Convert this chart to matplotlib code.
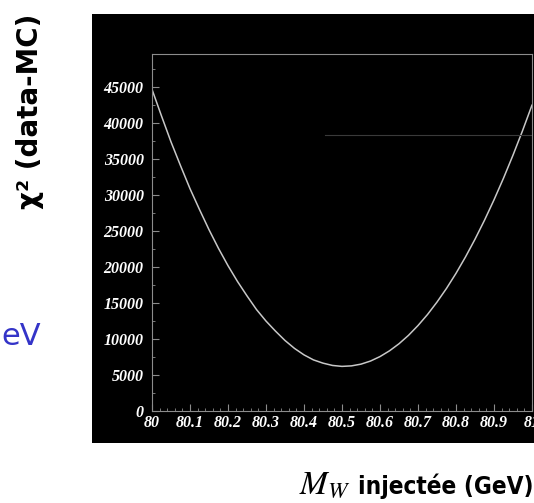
import matplotlib.pyplot as plt
from matplotlib.ticker import MultipleLocator

# chi2 scan versus injected W mass
mw_injected = [80.000, 80.025, 80.050, 80.075, 80.100, 80.125, 80.150, 80.175,
               80.200, 80.225, 80.250, 80.275, 80.300, 80.325, 80.350, 80.375,
               80.400, 80.425, 80.450, 80.475, 80.500, 80.525, 80.550, 80.575,
               80.600, 80.625, 80.650, 80.675, 80.700, 80.725, 80.750, 80.775,
               80.800, 80.825, 80.850, 80.875, 80.900, 80.925, 80.950, 80.975,
               81.000]
chi2 = [44700, 41000, 37400, 34100, 30900, 28000, 25200, 22600,
        20200, 18000, 16000, 14100, 12500, 11100, 9800, 8700,
        7800, 7100, 6650, 6330, 6200, 6270, 6510, 6940,
        7560, 8360, 9340, 10510, 11870, 13400, 15130, 17030,
        19120, 21400, 23860, 26500, 29330, 32340, 35540, 38920,
        42490]

x_ticks = [80, 80.1, 80.2, 80.3, 80.4, 80.5, 80.6, 80.7, 80.8, 80.9, 81]
x_ticklabels = ["80", "80.1", "80.2", "80.3", "80.4", "80.5", "80.6",
                "80.7", "80.8", "80.9", "81"]
y_ticks = [0, 5000, 10000, 15000, 20000, 25000, 30000, 35000, 40000, 45000]

# edge of the stats box left over from the fit canvas
box_left, box_bottom = 80.455, 38300

plt.rcParams['mathtext.fontset'] = 'stix'

fig = plt.figure(figsize=(5.34, 5.03), dpi=100)
fig.patch.set_facecolor('white')

# black canvas behind the plot
bg = fig.add_axes([0.1723, 0.1193, 0.8277, 0.8529], zorder=0)
bg.set_facecolor('black')
bg.set_xticks([])
bg.set_yticks([])
for side in bg.spines.values():
    side.set_visible(False)

ax = fig.add_axes([0.2846, 0.1829, 0.7116, 0.7097], zorder=1)
ax.set_facecolor('black')

ax.plot(mw_injected, chi2, color='#c8c8c8', lw=1.1)
ax.plot([box_left, 81.0], [box_bottom, box_bottom], color='#3a3a3a', lw=0.8)

ax.set_xlim(80, 81)
ax.set_ylim(0, 49600)
ax.set_xticks(x_ticks)
ax.set_xticklabels(x_ticklabels)
ax.set_yticks(y_ticks)
ax.set_yticklabels([str(v) for v in y_ticks])
ax.xaxis.set_minor_locator(MultipleLocator(0.02))
ax.yaxis.set_minor_locator(MultipleLocator(2500))

for side in ax.spines.values():
    side.set_color('#8c8c8c')
    side.set_linewidth(0.8)

ax.tick_params(which='both', direction='in', color='#8c8c8c',
               labelcolor='white', top=False, right=False)
ax.tick_params(which='major', length=5, width=0.8)
ax.tick_params(which='minor', length=2.5, width=0.6)
ax.tick_params(axis='y', pad=6)
ax.tick_params(axis='x', pad=3)
for lab in ax.get_xticklabels() + ax.get_yticklabels():
    lab.set_fontfamily('Liberation Serif')
    lab.set_fontstyle('italic')
    lab.set_fontweight('bold')
    lab.set_fontsize(11.5)

fig.text(30 / 534, 1 - 111 / 503, "χ² (data-MC)", rotation=90,
         ha='center', va='center', fontsize=20, fontweight='bold',
         color='black', family='DejaVu Sans')
fig.text(41 / 534, 1 - 345 / 503, "eV", ha='right', va='baseline',
         fontsize=22, color='#3434c8', family='DejaVu Sans')

# x title: serif M_W followed by the bold words
words = fig.text(533 / 534, 1 - 494 / 503, "injectée (GeV)", ha='right',
                 va='baseline', fontsize=17.5, fontweight='bold',
                 fontstretch='condensed', color='black', family='DejaVu Sans')
renderer = fig.canvas.get_renderer()
x0 = words.get_window_extent(renderer).x0
fig.text((x0 - 7) / 534, 1 - 494 / 503, r"$M_W$", ha='right',
         va='baseline', fontsize=24, color='black')

fig.savefig('out.png', dpi=100)
